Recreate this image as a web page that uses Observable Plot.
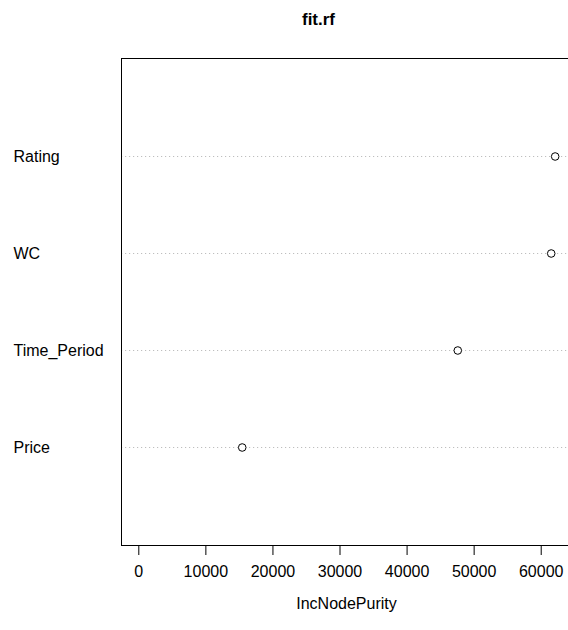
<!DOCTYPE html>
<html>
<head>
<meta charset="utf-8">
<script src="https://cdn.jsdelivr.net/npm/d3@7"></script>
<script src="https://cdn.jsdelivr.net/npm/@observablehq/plot@0.6"></script>
<style>
  html, body { margin: 0; padding: 0; background: white; }
  svg { display: block; }
</style>
</head>
<body>
<div id="chart"></div>
<script>
const title = "fit.rf";
const xLabel = "IncNodePurity";
const categories = ["Rating", "WC", "Time_Period", "Price"];
const values = [62080, 61490, 47560, 15420];
const xTicks = [0, 10000, 20000, 30000, 40000, 50000, 60000];

const data = categories.map((c, i) => ({name: c, value: values[i]}));

const chart = Plot.plot({
  width: 568,
  height: 630,
  marginLeft: 121,
  marginRight: -3,
  marginTop: 58,
  marginBottom: 85,
  style: {fontFamily: "'Liberation Sans', Arial, Helvetica, sans-serif", fontSize: "16px", color: "black", background: "white"},
  x: {domain: [-2580, 64515], ticks: xTicks},
  y: {type: "point", domain: categories, padding: 1},
  marks: [
    Plot.ruleY(data, {y: "name", stroke: "#bebebe", strokeDasharray: "1.2,2.8", strokeWidth: 1}),
    Plot.frame({stroke: "black", strokeWidth: 1}),
    Plot.axisX({ticks: xTicks, tickSize: 10, tickPadding: 10, tickFormat: d => String(d), label: null, fontSize: 16}),
    Plot.axisY({ticks: [], label: null}),
    Plot.text(data, {y: "name", text: "name", frameAnchor: "left", dx: -108, textAnchor: "start", fontSize: 16}),
    Plot.dot(data, {x: "value", y: "name", r: 3.8, stroke: "black", fill: "white", strokeWidth: 1}),
    Plot.text([xLabel], {text: d => d, frameAnchor: "bottom", dy: 58, lineAnchor: "middle", fontSize: 16}),
    Plot.text([title], {text: d => d, frameAnchor: "top", dx: -28, dy: -39, lineAnchor: "middle", fontSize: 17, fontWeight: "bold"})
  ]
});
document.getElementById("chart").appendChild(chart);
</script>
</body>
</html>
